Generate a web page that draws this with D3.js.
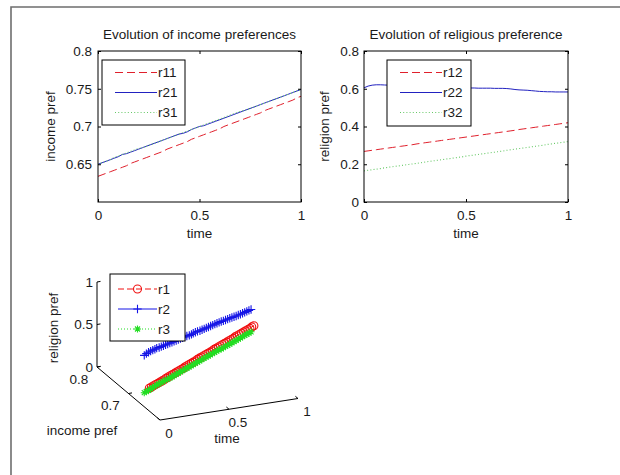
<!DOCTYPE html>
<html>
<head>
<meta charset="utf-8">
<script src="https://cdn.jsdelivr.net/npm/d3@7"></script>
<style>
  html, body { margin: 0; padding: 0; background: #fff; }
  svg { display: block; }
  text { font-family: "Liberation Sans", Arial, sans-serif; font-size: 13.5px; fill: #1a1a1a; }
</style>
</head>
<body>
<svg id="fig" width="620" height="475"></svg>
<script>
// ---- data -------------------------------------------------------------
const time = [0,0.02,0.04,0.06,0.08,0.1,0.12,0.14,0.16,0.18,0.2,0.22,0.24,0.26,0.28,0.3,0.32,0.34,0.36,0.38,0.4,0.42,0.44,0.46,0.48,0.5,0.52,0.54,0.56,0.58,0.6,0.62,0.64,0.66,0.68,0.7,0.72,0.74,0.76,0.78,0.8,0.82,0.84,0.86,0.88,0.9,0.92,0.94,0.96,0.98,1];

// income preference of groups 1..3
const r11 = [0.634,0.636,0.638,0.640,0.642,0.644,0.646,0.648,0.651,0.653,0.655,0.657,0.659,0.661,0.663,0.665,0.667,0.670,0.672,0.674,0.676,0.678,0.680,0.683,0.685,0.687,0.689,0.691,0.693,0.695,0.697,0.700,0.702,0.704,0.706,0.708,0.710,0.712,0.714,0.716,0.718,0.721,0.723,0.725,0.727,0.729,0.731,0.733,0.735,0.738,0.740];
const r21 = [0.650,0.652,0.654,0.656,0.658,0.660,0.663,0.664,0.666,0.668,0.670,0.672,0.674,0.676,0.678,0.680,0.682,0.684,0.686,0.688,0.690,0.691,0.693,0.696,0.698,0.700,0.701,0.703,0.705,0.707,0.709,0.711,0.713,0.715,0.717,0.719,0.721,0.723,0.725,0.727,0.729,0.731,0.733,0.735,0.737,0.739,0.741,0.743,0.745,0.747,0.749];
const r31 = [0.650,0.652,0.654,0.656,0.659,0.661,0.663,0.665,0.667,0.669,0.671,0.672,0.674,0.676,0.678,0.680,0.682,0.684,0.686,0.688,0.690,0.692,0.694,0.696,0.698,0.700,0.702,0.704,0.706,0.708,0.710,0.712,0.714,0.716,0.718,0.720,0.721,0.723,0.725,0.727,0.729,0.731,0.733,0.735,0.737,0.739,0.741,0.743,0.745,0.747,0.749];

// religious preference of groups 1..3
const r12 = [0.268,0.271,0.274,0.277,0.280,0.283,0.286,0.289,0.292,0.295,0.298,0.301,0.304,0.308,0.311,0.314,0.317,0.320,0.323,0.326,0.329,0.332,0.335,0.338,0.341,0.344,0.347,0.350,0.353,0.356,0.359,0.362,0.365,0.368,0.371,0.374,0.377,0.380,0.384,0.387,0.390,0.393,0.396,0.399,0.402,0.405,0.408,0.411,0.414,0.417,0.420];
const r22 = [0.605,0.614,0.619,0.621,0.621,0.620,0.619,0.618,0.617,0.616,0.615,0.614,0.613,0.612,0.611,0.610,0.609,0.609,0.608,0.608,0.607,0.606,0.606,0.605,0.605,0.604,0.604,0.604,0.603,0.603,0.603,0.603,0.602,0.602,0.602,0.601,0.599,0.596,0.594,0.593,0.592,0.590,0.588,0.586,0.585,0.584,0.584,0.583,0.583,0.583,0.583];
const r32 = [0.165,0.168,0.171,0.174,0.177,0.181,0.184,0.187,0.190,0.193,0.196,0.199,0.202,0.205,0.208,0.212,0.215,0.218,0.221,0.224,0.227,0.230,0.233,0.236,0.239,0.243,0.246,0.249,0.252,0.255,0.258,0.261,0.264,0.267,0.270,0.274,0.277,0.280,0.283,0.286,0.289,0.292,0.295,0.298,0.301,0.305,0.308,0.311,0.314,0.317,0.320];

const timeTicks = [0, 0.5, 1];
const incomeTicks = [0.65, 0.7, 0.75, 0.8];
const religionTicks = [0, 0.2, 0.4, 0.6, 0.8];
const incomeTicks3 = [0.7, 0.8];
const religionTicks3 = [0, 0.5, 1];

const incomeNames = ["r11", "r21", "r31"];
const religionNames = ["r12", "r22", "r32"];
const groupNames = ["r1", "r2", "r3"];

// ---- styles -------------------------------------------------------------
const RED = "#e0202c", BLUE = "#2222c0", GREEN = "#66c866";
const lineStyles = [
  { color: RED, dash: "8,4", width: 1 },
  { color: BLUE, dash: null, width: 1 },
  { color: GREEN, dash: "1,2.2", width: 1.1 }
];
const fmt = v => String(v);

const svg = d3.select("#fig");

// figure frame
svg.append("path")
  .attr("d", "M11,475 L11,7 L620,7")
  .attr("fill", "none").attr("stroke", "#6e6e6e").attr("stroke-width", 1.6);

function styleAxis(sel) {
  sel.select(".domain").remove();
  sel.selectAll(".tick line").attr("stroke", "#000");
  sel.selectAll(".tick text").attr("fill", "#1a1a1a")
    .style("font-family", '"Liberation Sans", Arial, sans-serif').style("font-size", "13.5px");
}

function drawPanel(p) {
  const g = svg.append("g");
  const x = d3.scaleLinear().domain([0, 1]).range([p.left, p.right]);
  const y = d3.scaleLinear().domain(p.yDomain).range([p.bottom, p.top]);

  g.append("rect").attr("x", p.left).attr("y", p.top)
    .attr("width", p.right - p.left).attr("height", p.bottom - p.top)
    .attr("fill", "#fff");

  // series
  const line = d3.line().x((d, i) => x(time[i])).y(d => y(d));
  p.series.forEach((s, k) => {
    const st = lineStyles[k];
    g.append("path").datum(s).attr("d", line)
      .attr("fill", "none").attr("stroke", st.color)
      .attr("stroke-width", st.width)
      .attr("stroke-dasharray", st.dash);
  });

  // axes with inward ticks on all four sides
  g.append("g").attr("transform", `translate(0,${p.bottom})`)
    .call(d3.axisBottom(x).tickValues(timeTicks).tickFormat(fmt).tickSizeInner(-3).tickSizeOuter(0).tickPadding(8))
    .call(styleAxis);
  g.append("g").attr("transform", `translate(0,${p.top})`)
    .call(d3.axisTop(x).tickValues(timeTicks).tickFormat("").tickSizeInner(-3).tickSizeOuter(0))
    .call(styleAxis);
  g.append("g").attr("transform", `translate(${p.left},0)`)
    .call(d3.axisLeft(y).tickValues(p.yTicks).tickFormat(fmt).tickSizeInner(-3).tickSizeOuter(0).tickPadding(p.yPad))
    .call(styleAxis);
  g.append("g").attr("transform", `translate(${p.right},0)`)
    .call(d3.axisRight(y).tickValues(p.yTicks).tickFormat("").tickSizeInner(-3).tickSizeOuter(0))
    .call(styleAxis);

  g.append("rect").attr("x", p.left).attr("y", p.top)
    .attr("width", p.right - p.left).attr("height", p.bottom - p.top)
    .attr("fill", "none").attr("stroke", "#000").attr("stroke-width", 1);

  // labels
  g.append("text").attr("x", (p.left + p.right) / 2).attr("y", 39)
    .attr("text-anchor", "middle").text(p.title);
  g.append("text").attr("x", (p.left + p.right) / 2).attr("y", 238)
    .attr("text-anchor", "middle").text("time");
  g.append("text").attr("transform", `translate(${p.ylabX},${(p.top + p.bottom) / 2}) rotate(-90)`)
    .attr("text-anchor", "middle").text(p.ylabel);

  // legend
  const L = p.legend;
  const lg = g.append("g");
  lg.append("rect").attr("x", L.x).attr("y", L.y).attr("width", L.w).attr("height", L.h)
    .attr("fill", "#fff").attr("stroke", "#000").attr("stroke-width", 1);
  p.names.forEach((n, k) => {
    const st = lineStyles[k];
    const yy = L.y + 12.5 + k * 20;
    lg.append("line").attr("x1", L.x + 13).attr("x2", L.x + 55).attr("y1", yy).attr("y2", yy)
      .attr("stroke", st.color).attr("stroke-width", st.width).attr("stroke-dasharray", st.dash);
    lg.append("text").attr("x", L.x + 56).attr("y", yy).attr("dy", "0.36em").text(n);
  });
}

drawPanel({
  left: 98, right: 301, top: 51, bottom: 202,
  yDomain: [0.6, 0.8], yTicks: incomeTicks, yPad: 6,
  series: [r11, r21, r31], names: incomeNames,
  title: "Evolution of income preferences", ylabel: "income pref", ylabX: 55,
  legend: { x: 102, y: 60, w: 83, h: 65 }
});

drawPanel({
  left: 364, right: 568, top: 51, bottom: 202,
  yDomain: [0, 0.8], yTicks: religionTicks, yPad: 5,
  series: [r12, r22, r32], names: religionNames,
  title: "Evolution of religious preference", ylabel: "religion pref", ylabX: 329,
  legend: { x: 387, y: 60, w: 84, h: 66 }
});

// ---- 3-D trajectory (income, religion over time) ------------------------
const t3 = d3.scaleLinear().domain([0, 1]).range([0, 1]);
const inc3 = d3.scaleLinear().domain([0.6, 0.8]).range([0, 1]);
const rel3 = d3.scaleLinear().domain([0, 1]).range([0, 85]);
const origin = [160, 420], tVec = [138, -21.5], incVec = [-63, -53];
function proj(t, inc, rel) {
  const a = t3(t), b = inc3(inc);
  return [origin[0] + a * tVec[0] + b * incVec[0],
          origin[1] + a * tVec[1] + b * incVec[1] - rel3(rel)];
}

const g3 = svg.append("g");
function seg(p1, p2, col, w) {
  g3.append("line").attr("x1", p1[0]).attr("y1", p1[1]).attr("x2", p2[0]).attr("y2", p2[1])
    .attr("stroke", col || "#000").attr("stroke-width", w || 1);
}
// axis lines
seg(proj(0, 0.8, 0), proj(0, 0.8, 1));
seg(proj(0, 0.8, 0), proj(0, 0.6, 0));
seg(proj(0, 0.6, 0), proj(1, 0.6, 0));

// ticks and tick labels
religionTicks3.forEach(r => {
  const p = proj(0, 0.8, r);
  seg(p, [p[0] + 3.5, p[1] - 0.6]);
  g3.append("text").attr("x", p[0] - 4).attr("y", p[1]).attr("dy", "0.36em")
    .attr("text-anchor", "end").text(fmt(r));
});
incomeTicks3.forEach(v => {
  const p = proj(0, v, 0);
  seg(p, [p[0] + 3.5, p[1] - 0.6]);
  g3.append("text").attr("x", p[0] - 18).attr("y", p[1] + 12).attr("dy", "0.36em")
    .attr("text-anchor", "middle").text(fmt(v));
});
timeTicks.forEach(t => {
  const p = proj(t, 0.6, 0);
  seg(p, [p[0] - 2.6, p[1] - 2.2]);
  g3.append("text").attr("x", p[0] + 9).attr("y", p[1] + 13).attr("dy", "0.36em")
    .attr("text-anchor", "middle").text(fmt(t));
});
g3.append("text").attr("transform", "translate(58,328) rotate(-90)")
  .attr("text-anchor", "middle").text("religion pref");
g3.append("text").attr("x", 82).attr("y", 430).attr("dy", "0.36em")
  .attr("text-anchor", "middle").text("income pref");
g3.append("text").attr("x", 227).attr("y", 438).attr("dy", "0.36em")
  .attr("text-anchor", "middle").text("time");

// markers
const M_RED = "#f01010", M_BLUE = "#1414e6", M_GREEN = "#22dd22";
const markers = [
  { color: M_RED, dash: "6,3", draw: (s, x, y) => s.append("circle").attr("cx", x).attr("cy", y).attr("r", 4)
      .attr("fill", "none").attr("stroke", M_RED).attr("stroke-width", 1.1) },
  { color: M_BLUE, dash: null, draw: (s, x, y) => s.append("path")
      .attr("d", `M${x - 4.2},${y}H${x + 4.2}M${x},${y - 4.2}V${y + 4.2}`)
      .attr("stroke", M_BLUE).attr("stroke-width", 1.1) },
  { color: M_GREEN, dash: "1,2", draw: (s, x, y) => s.append("path")
      .attr("d", `M${x - 3.5},${y}H${x + 3.5}M${x},${y - 3.5}V${y + 3.5}M${x - 2.5},${y - 2.5}L${x + 2.5},${y + 2.5}M${x - 2.5},${y + 2.5}L${x + 2.5},${y - 2.5}`)
      .attr("stroke", M_GREEN).attr("stroke-width", 1.1) }
];
const groups3 = [[r11, r12], [r21, r22], [r31, r32]];
groups3.forEach(([inc, rel], k) => {
  const pts = time.map((t, i) => proj(t, inc[i], rel[i]));
  g3.append("path").attr("d", d3.line()(pts)).attr("fill", "none")
    .attr("stroke", markers[k].color).attr("stroke-width", 1).attr("stroke-dasharray", markers[k].dash);
  const mg = g3.append("g");
  pts.forEach(p => markers[k].draw(mg, p[0], p[1]));
});

// legend of the 3-D plot
const lg3 = g3.append("g");
lg3.append("rect").attr("x", 110).attr("y", 274).attr("width", 75).attr("height", 67)
  .attr("fill", "#fff").attr("stroke", "#000").attr("stroke-width", 1);
groupNames.forEach((n, k) => {
  const yy = 289 + k * 20;
  lg3.append("line").attr("x1", 118).attr("x2", 157).attr("y1", yy).attr("y2", yy)
    .attr("stroke", markers[k].color).attr("stroke-width", 1).attr("stroke-dasharray", markers[k].dash);
  markers[k].draw(lg3, 137.5, yy);
  lg3.append("text").attr("x", 158).attr("y", yy).attr("dy", "0.36em").text(n);
});
</script>
</body>
</html>
